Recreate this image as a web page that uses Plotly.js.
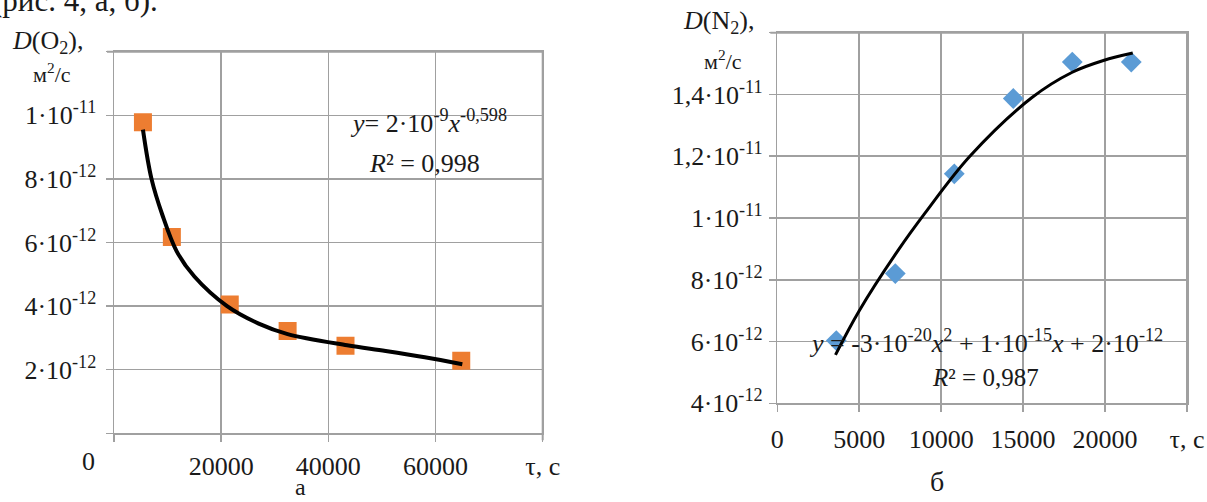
<!DOCTYPE html>
<html>
<head>
<meta charset="utf-8">
<script src="https://cdn.plot.ly/plotly-3.0.1.min.js"></script>
<style>html,body{margin:0;padding:0;background:#fff;}#chart{width:1207px;height:502px;}</style>
</head>
<body>
<div id="chart"></div>
<script>
// Left chart (a): D(O2) vs time
const tauO2 = [5400, 10800, 21600, 32400, 43200, 64800];
const dO2 = [9.78e-12, 6.17e-12, 4.05e-12, 3.22e-12, 2.75e-12, 2.28e-12];
const trendO2X = [5400, 7000, 9000, 11700, 15000, 21100, 27000, 32400, 43500, 50700, 58000, 65000];
const trendO2Y = [9.55e-12, 8.0e-12, 6.88e-12, 5.72e-12, 4.93e-12, 4.0e-12, 3.45e-12, 3.12e-12, 2.77e-12, 2.59e-12, 2.39e-12, 2.17e-12];
const xTicksO2 = [0, 20000, 40000, 60000, 80000];
const xLabelsO2 = ['', '20000', '40000', '60000', 'τ, с'];
const yTicksO2 = [0, 2e-12, 4e-12, 6e-12, 8e-12, 1e-11, 1.2e-11];
const yLabelsO2 = ['', '2·10<sup>-12</sup>', '4·10<sup>-12</sup>', '6·10<sup>-12</sup>', '8·10<sup>-12</sup>', '1·10<sup>-11</sup>', ''];

// Right chart (б): D(N2) vs time
const tauN2 = [3600, 7200, 10800, 14400, 18000, 21600];
const dN2 = [6.03e-12, 8.2e-12, 1.143e-11, 1.387e-11, 1.505e-11, 1.505e-11];
const trendN2X = [3550, 5000, 7380, 9000, 11750, 15540, 18000, 19900, 21690];
const trendN2Y = [5.57e-12, 7.0e-12, 8.96e-12, 1.015e-11, 1.2e-11, 1.39e-11, 1.472e-11, 1.51e-11, 1.534e-11];
const xTicksN2 = [0, 5000, 10000, 15000, 20000, 25000];
const xLabelsN2 = ['0', '5000', '10000', '15000', '20000', 'τ, с'];
const yTicksN2 = [4e-12, 6e-12, 8e-12, 1e-11, 1.2e-11, 1.4e-11, 1.6e-11];
const yLabelsN2 = ['4·10<sup>-12</sup>', '6·10<sup>-12</sup>', '8·10<sup>-12</sup>', '1·10<sup>-11</sup>', '1,2·10<sup>-11</sup>', '1,4·10<sup>-11</sup>', ''];

const FONT = '"Liberation Serif", "Times New Roman", serif';
const TXT = '#1a1a1a';
const GRID = '#a0a0a0';
const W = 1207, H = 502;
const px = v => v / W;
const py = v => (H - v) / H;

// plot-area boxes in page pixels: [left, right, top, bottom]
const boxO2 = [114, 542.7, 51.7, 433.3];
const boxN2 = [777.3, 1187, 32.7, 403.3];

function axis(domain, range, vals, labels, extra) {
  return Object.assign({
    domain: domain, range: range, tickmode: 'array', tickvals: vals, ticktext: labels,
    showgrid: true, gridcolor: GRID, gridwidth: 1.5,
    showline: true, linecolor: GRID, linewidth: 1.5, mirror: true,
    ticks: 'outside', ticklen: 7, tickcolor: GRID, tickwidth: 1.5,
    zeroline: false, fixedrange: true,
    tickfont: {family: FONT, size: 26, color: TXT}
  }, extra || {});
}

const traces = [
  {x: tauO2, y: dO2, xaxis: 'x', yaxis: 'y', type: 'scatter', mode: 'markers',
   marker: {symbol: 'square', size: 18, color: '#ED7D31'}, hoverinfo: 'skip'},
  {x: trendO2X, y: trendO2Y, xaxis: 'x', yaxis: 'y', type: 'scatter', mode: 'lines',
   line: {color: '#000', width: 4, shape: 'spline', smoothing: 1}, hoverinfo: 'skip'},
  {x: tauN2, y: dN2, xaxis: 'x2', yaxis: 'y2', type: 'scatter', mode: 'markers',
   marker: {symbol: 'diamond', size: 16, color: '#5B9BD5'}, hoverinfo: 'skip'},
  {x: trendN2X, y: trendN2Y, xaxis: 'x2', yaxis: 'y2', type: 'scatter', mode: 'lines',
   line: {color: '#000', width: 3, shape: 'spline', smoothing: 1}, hoverinfo: 'skip'}
];

function ann(text, x, y, size, extra) {
  return Object.assign({text: text, x: px(x), y: py(y), xref: 'paper', yref: 'paper',
    xanchor: 'center', yanchor: 'middle', showarrow: false,
    font: {family: FONT, size: size, color: TXT}}, extra || {});
}

function edge(x0, y0, x1, y1) {
  return {type: 'line', xref: 'paper', yref: 'paper', x0: px(x0), x1: px(x1), y0: py(y0), y1: py(y1),
    line: {color: GRID, width: 2}, layer: 'above'};
}

const layout = {
  width: W, height: H,
  margin: {l: 0, r: 0, t: 0, b: 0},
  paper_bgcolor: '#fff', plot_bgcolor: 'rgba(0,0,0,0)',
  showlegend: false,
  font: {family: FONT, color: TXT},
  xaxis: axis([px(boxO2[0]), px(boxO2[1])], [0, 80000], xTicksO2, xLabelsO2, {anchor: 'y', ticklabelstandoff: 2}),
  yaxis: axis([py(boxO2[3]), py(boxO2[2])], [0, 1.2e-11], yTicksO2, yLabelsO2, {anchor: 'x', ticklabelstandoff: 4}),
  xaxis2: axis([px(boxN2[0]), px(boxN2[1])], [0, 25000], xTicksN2, xLabelsN2, {anchor: 'y2', ticklabelstandoff: 5}),
  yaxis2: axis([py(boxN2[3]), py(boxN2[2])], [4e-12, 1.6e-11], yTicksN2, yLabelsN2, {anchor: 'x2', ticklabelstandoff: 1}),
  shapes: [
    edge(boxO2[0] - 7, boxO2[2], boxO2[1], boxO2[2]),
    edge(boxO2[1], boxO2[2], boxO2[1], boxO2[3] + 7),
    edge(boxN2[0] - 7, boxN2[2], boxN2[1], boxN2[2]),
    edge(boxN2[1], boxN2[2], boxN2[1], boxN2[3] + 7)
  ],
  annotations: [
    ann('(рис. 4, а, б).', -10, 20, 31, {xanchor: 'left', yanchor: 'bottom'}),
    ann('<i>D</i>(O<sub>2</sub>),', 47, 42, 26),
    ann('м<sup>2</sup>/с', 52, 73, 22),
    ann('0', 88, 461, 26),
    ann('<i>y</i>= 2·10<sup>-9</sup><i>x</i><sup>-0,598</sup>', 428, 121, 26),
    ann('<i>R</i>² = 0,998', 425, 163, 26),
    ann('а', 300, 502, 24, {yanchor: 'bottom'}),
    ann('<i>D</i>(N<sub>2</sub>),', 718, 22, 26),
    ann('м<sup>2</sup>/с', 723, 60, 22),
    ann('<i>y</i> = -3·10<sup>-20</sup><i>x</i><sup>2</sup> + 1·10<sup>-15</sup><i>x</i> + 2·10<sup>-12</sup>', 986, 341, 26),
    ann('<i>R</i>² = 0,987', 985, 377, 25),
    ann('б', 937, 481, 28)
  ]
};

Plotly.newPlot('chart', traces, layout, {displayModeBar: false, staticPlot: true});
</script>
</body>
</html>
